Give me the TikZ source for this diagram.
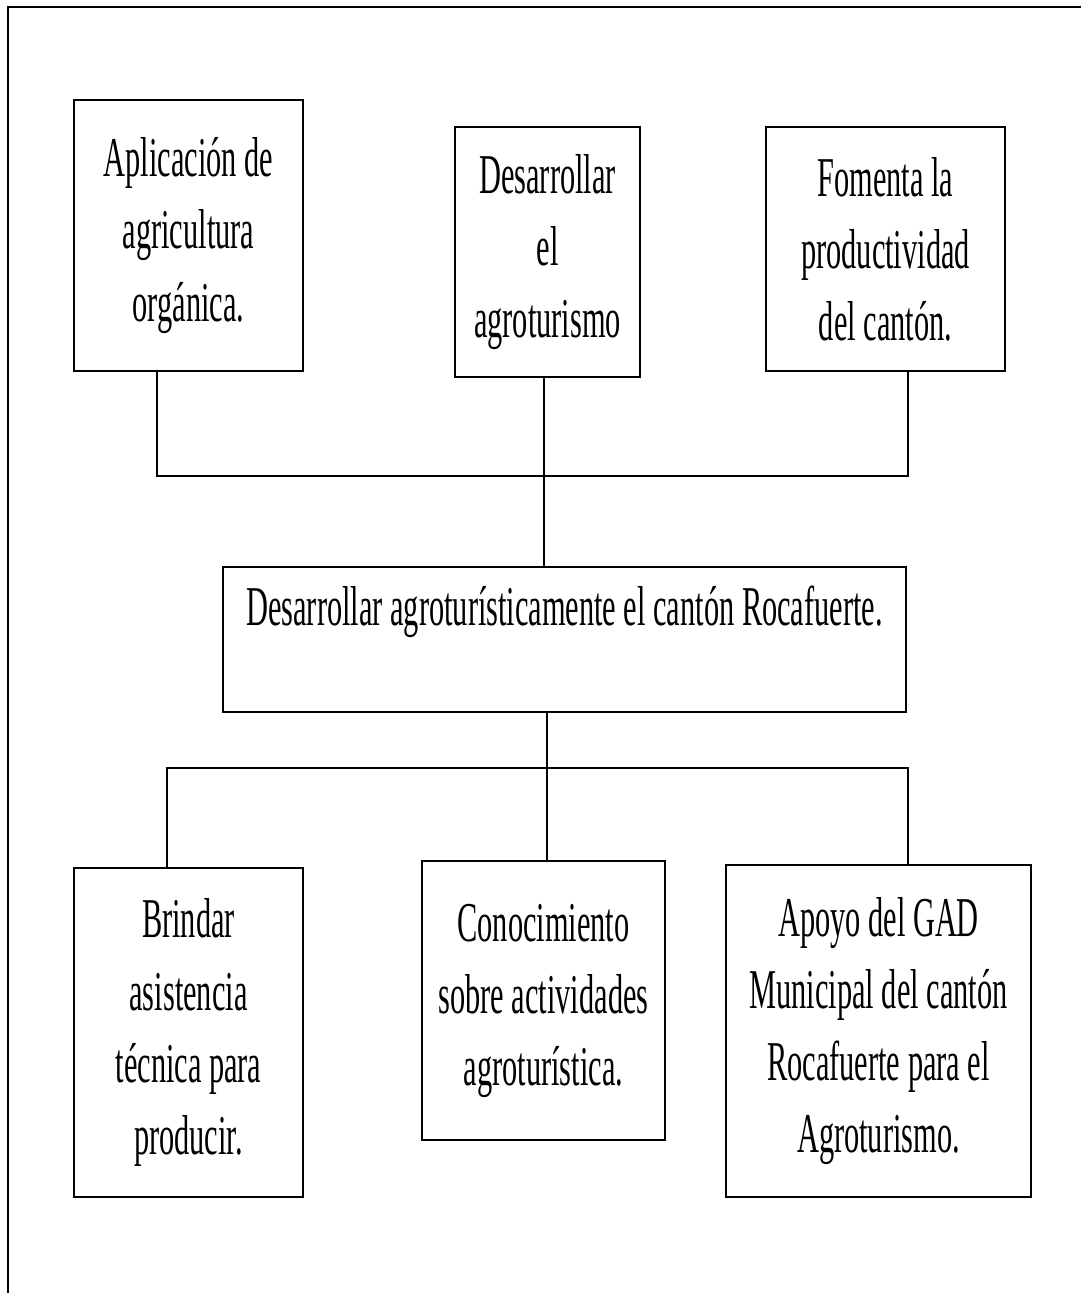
\documentclass[tikz,border=0pt]{standalone}
\usepackage{fontspec}
\setmainfont[FakeStretch=0.54]{Liberation Serif}
\tikzset{
  box/.style={draw, line width=1.3pt, inner sep=0pt, align=center,
    font=\fontsize{32}{41}\selectfont},
  link/.style={line width=0.9pt}
}
\begin{document}
\begin{tikzpicture}[x=0.02cm, y=-0.02cm]
\useasboundingbox (0,0) rectangle (1081,1293);
\draw[line width=0.9pt] (8,1293) -- (8,7) -- (1081,7); % frame

% causes
\node[box, minimum width=4.58cm, minimum height=5.42cm] (apl) at (188.5,235.5) {Aplicación de\\agricultura\\orgánica.};
\node[box, minimum width=3.7cm, minimum height=5cm] (des) at (547.5,252) {Desarrollar\\el\\agroturismo};
\node[box, minimum width=4.78cm, minimum height=4.88cm] (fom) at (885.5,249) {Fomenta la\\productividad\\del cantón.};

% goal
\node[box, minimum width=13.66cm, text height=1.16cm, text depth=1.74cm] (goal) at (564.5,639.5) {Desarrollar agroturísticamente el cantón Rocafuerte.};

% effects
\node[box, minimum width=4.58cm, minimum height=6.58cm] (bri) at (188.5,1032.5) {Brindar\\asistencia\\técnica para\\producir.};
\node[box, minimum width=4.86cm, minimum height=5.58cm] (con) at (543.5,1000.5) {Conocimiento\\sobre actividades\\agroturística.};
\node[box, minimum width=6.1cm, minimum height=6.64cm] (apo) at (878.5,1031) {Apoyo del GAD\\Municipal del cantón\\Rocafuerte para el\\Agroturismo.};

% upper bus
\coordinate (tl) at (157,476);
\coordinate (tm) at (544,476);
\coordinate (tr) at (908,476);
\draw[link] (apl.south -| tl) |- (tr) -- (fom.south -| tr);
\draw[link] (des.south -| tm) -- (goal.north -| tm);

% lower bus
\coordinate (bl) at (167,768);
\coordinate (bm) at (547,768);
\coordinate (br) at (908,768);
\draw[link] (bri.north -| bl) |- (br) -- (apo.north -| br);
\draw[link] (goal.south -| bm) -- (con.north -| bm);
\end{tikzpicture}
\end{document}
